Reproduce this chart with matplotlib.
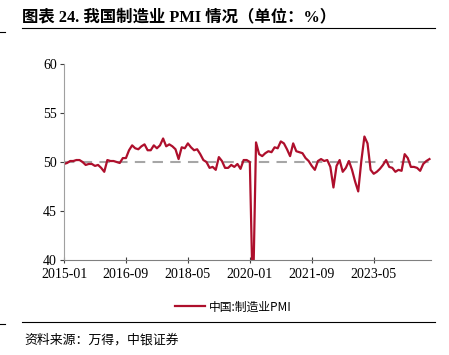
"""
我国制造业 PMI 折线图 (2015-01 ~ 2024-11)
out.png を出力する。
"""

import matplotlib.pyplot as plt
from matplotlib.lines import Line2D

plt.rcParams["font.family"] = ["Liberation Serif", "Noto Sans CJK SC"]

# ---- データ (NBS 製造業 PMI, 月次) ----
START_YEAR = 2015
pmi = [
    49.8, 49.9, 50.1, 50.1, 50.2, 50.2, 50.0, 49.7, 49.8, 49.8, 49.6, 49.7,
    49.4, 49.0, 50.2, 50.1, 50.1, 50.0, 49.9, 50.4, 50.4, 51.2, 51.7, 51.4,
    51.3, 51.6, 51.8, 51.2, 51.2, 51.7, 51.4, 51.7, 52.4, 51.6, 51.8, 51.6,
    51.3, 50.3, 51.5, 51.4, 51.9, 51.5, 51.2, 51.3, 50.8, 50.2, 50.0, 49.4,
    49.5, 49.2, 50.5, 50.1, 49.4, 49.4, 49.7, 49.5, 49.8, 49.3, 50.2, 50.2,
    50.0, 35.7, 52.0, 50.8, 50.6, 50.9, 51.1, 51.0, 51.5, 51.4, 52.1, 51.9,
    51.3, 50.6, 51.9, 51.1, 51.0, 50.9, 50.4, 50.1, 49.6, 49.2, 50.1, 50.3,
    50.1, 50.2, 49.5, 47.4, 49.6, 50.2, 49.0, 49.4, 50.1, 49.2, 48.0, 47.0,
    50.1, 52.6, 51.9, 49.2, 48.8, 49.0, 49.3, 49.7, 50.2, 49.5, 49.4, 49.0,
    49.2, 49.1, 50.8, 50.4, 49.5, 49.5, 49.4, 49.1, 49.8, 50.1, 50.3,
]
tick_pos = [0, 20, 40, 60, 80, 100]
tick_labels = ["2015-01", "2016-09", "2018-05", "2020-01", "2021-09", "2023-05"]
y_ticks = [40, 45, 50, 55, 60]
baseline = 50

LINE_COLOR = "#AE0F2C"
GRID_COLOR = "#A6A6A6"

fig = plt.figure(figsize=(4.49, 3.55), dpi=100)

# タイトル
fig.text(22 / 449, 1 - 17 / 355, "图表 24. 我国制造业 PMI 情况（单位：%）",
         fontsize=11.8, fontweight="bold", va="center", ha="left",
         family=["Liberation Serif", "Noto Sans CJK SC"])
fig.add_artist(Line2D([22 / 449, 435 / 449], [1 - 28 / 355] * 2,
                      color="black", lw=0.8))
fig.add_artist(Line2D([0, 5 / 449], [1 - 32 / 355] * 2, color="black", lw=0.8))

# 出典
fig.add_artist(Line2D([22 / 449, 435 / 449], [1 - 322 / 355] * 2,
                      color="black", lw=0.8))
fig.add_artist(Line2D([0, 5 / 449], [1 - 324 / 355] * 2, color="black", lw=0.8))
fig.text(24 / 449, 1 - 340 / 355, "资料来源：万得，中银证券",
         fontsize=9.3, style="italic", va="center", ha="left",
         family=["Noto Sans CJK SC"])

# ---- プロット ----
ax = fig.add_axes([64 / 449, 1 - 260 / 355, (431 - 64) / 449, (260 - 64) / 355])
x = list(range(len(pmi)))
ax.axhline(baseline, color=GRID_COLOR, lw=1.5, ls=(0, (5, 3.5)), zorder=1)
ax.plot(x, pmi, color=LINE_COLOR, lw=1.6, zorder=2, label="中国:制造业PMI")

ax.set_ylim(40, 60)
ax.set_xlim(0, 118.5)
ax.set_yticks(y_ticks)
ax.set_xticks(tick_pos)
ax.set_xticklabels(tick_labels)
ax.tick_params(axis="both", labelsize=10, colors="#404040", length=3,
               width=0.8, labelcolor="black")
ax.tick_params(axis="x", direction="inout", length=5, pad=3)
ax.tick_params(axis="y", direction="out", pad=2)

for side in ("top", "right"):
    ax.spines[side].set_visible(False)
ax.spines["left"].set_color("#A0A0A0")
ax.spines["bottom"].set_color("#808080")
for side in ("left", "bottom"):
    ax.spines[side].set_linewidth(0.8)

leg = fig.legend(loc="center", bbox_to_anchor=(233 / 449, 1 - 307 / 355),
                 frameon=False, handlelength=2.6, handletextpad=0.3,
                 prop={"family": ["Noto Sans CJK SC"], "size": 8.5})

fig.savefig("out.png", dpi=100)
plt.close(fig)
